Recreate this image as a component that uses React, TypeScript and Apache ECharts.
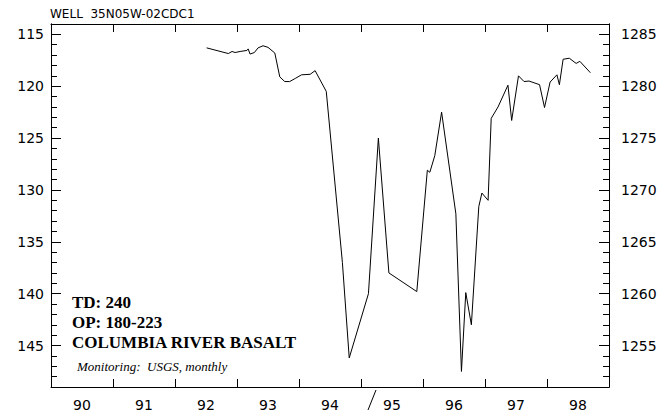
import { useEffect, useRef } from 'react';
import * as echarts from 'echarts';

const chartTitle = 'WELL  35N05W-02CDC1';
const yearLabels = ['90', '91', '92', '93', '94', '95', '96', '97', '98'];
const yearStart = 1990;
const yearEnd = 1999;
const depthMin = 114;
const depthMax = 149;
const datum = 1400; // right axis value = datum - depth

const dates = [
  1992.51, 1992.86, 1992.92, 1992.97, 1993.05, 1993.16, 1993.18, 1993.21, 1993.28, 1993.34,
  1993.42, 1993.5, 1993.61, 1993.69, 1993.77, 1993.85, 1993.94, 1994.04, 1994.18, 1994.26,
  1994.44, 1994.7, 1994.81, 1995.12, 1995.28, 1995.45, 1995.9, 1996.07, 1996.11, 1996.19,
  1996.3, 1996.53, 1996.62, 1996.69, 1996.78, 1996.9, 1996.95, 1997.05, 1997.1, 1997.21,
  1997.37, 1997.43, 1997.54, 1997.63, 1997.71, 1997.88, 1997.96, 1998.05, 1998.16, 1998.2,
  1998.26, 1998.36, 1998.47, 1998.53, 1998.7,
];
const levels = [
  116.3, 116.85, 116.65, 116.75, 116.65, 116.55, 116.4, 116.9, 116.75, 116.3,
  116.1, 116.25, 116.8, 119.1, 119.55, 119.55, 119.25, 118.9, 118.85, 118.5,
  120.5, 137.0, 146.2, 140.0, 125.0, 138.0, 139.8, 128.1, 128.3, 126.7,
  122.5, 132.3, 147.5, 139.9, 143.0, 131.6, 130.3, 131.0, 123.1, 122.0,
  119.9, 123.3, 119.0, 119.55, 119.5, 119.85, 122.05, 119.6, 118.9, 119.85,
  117.4, 117.3, 117.8, 117.6, 118.7,
];

const infoLines = ['TD: 240', 'OP: 180-223', 'COLUMBIA RIVER BASALT'];
const noteText = 'Monitoring:  USGS, monthly';

export default function App() {
  const ref = useRef<HTMLDivElement>(null);
  useEffect(() => {
    const chart = echarts.init(ref.current!, null, { renderer: 'svg' });
    const black = '#000';
    const tickFont = { fontFamily: 'DejaVu Sans', fontSize: 14, color: black };
    const lineSt = { color: black, width: 1 };
    const baseY: any = {
      type: 'value',
      inverse: true,
      min: depthMin,
      max: depthMax,
      splitLine: { show: false },
      axisLine: { show: true, lineStyle: lineSt },
    };
    const majorY = (position: string, margin: number, fmt: (v: number) => string) => ({
      ...baseY,
      position,
      splitNumber: 7,
      minInterval: 5,
      maxInterval: 5,
      axisTick: { show: true, inside: true, length: 10, lineStyle: lineSt },
      axisLabel: { ...tickFont, margin, showMinLabel: false, showMaxLabel: false, formatter: fmt },
    });
    const minorY = (position: string) => ({
      ...baseY,
      position,
      interval: 1,
      axisTick: { show: true, inside: true, length: 6, lineStyle: lineSt },
      axisLabel: { show: false },
    });
    const catX = (position: string, showLabel: boolean) => ({
      type: 'category',
      position,
      data: yearLabels,
      boundaryGap: true,
      axisLine: { show: true, lineStyle: lineSt },
      axisTick: { show: true, inside: true, length: 8, interval: 0, lineStyle: lineSt },
      axisLabel: { show: showLabel, interval: 0, ...tickFont, margin: 11 },
      splitLine: { show: false },
    });

    const textGraphics: any[] = [
      {
        type: 'text',
        x: 50,
        y: 14,
        style: { text: chartTitle, font: '12px "DejaVu Sans"', fill: black, verticalAlign: 'middle' },
      },
      ...infoLines.map((t, i) => ({
        type: 'text',
        x: 72,
        y: 302 + i * 20,
        style: { text: t, font: 'bold 17px "Liberation Serif"', fill: black, verticalAlign: 'middle' },
      })),
      {
        type: 'text',
        x: 77,
        y: 366,
        style: { text: noteText, font: 'italic 13px "Liberation Serif"', fill: black, verticalAlign: 'middle' },
      },
      {
        type: 'line',
        shape: { x1: 368, y1: 410, x2: 376, y2: 390 },
        style: { stroke: black, lineWidth: 1 },
      },
    ];

    chart.setOption({
      animation: false,
      grid: { left: 51, right: 59, top: 24, bottom: 28 },
      xAxis: [
        { type: 'value', min: yearStart, max: yearEnd, show: false, splitLine: { show: false } },
        catX('bottom', true),
        catX('top', false),
      ],
      yAxis: [
        majorY('left', 7, (v: number) => String(v)),
        minorY('left'),
        majorY('right', 12, (v: number) => String(datum - v)),
        minorY('right'),
      ],
      series: [
        {
          type: 'line',
          xAxisIndex: 0,
          yAxisIndex: 0,
          data: dates.map((d, i) => [d, levels[i]]),
          showSymbol: false,
          symbol: 'none',
          lineStyle: { color: black, width: 1 },
          silent: true,
        },
      ],
      graphic: textGraphics,
    });
    return () => chart.dispose();
  }, []);
  return (
    <div
      ref={ref}
      style={{ position: 'fixed', left: 0, top: 0, width: 668, height: 415, background: '#fff' }}
    />
  );
}
